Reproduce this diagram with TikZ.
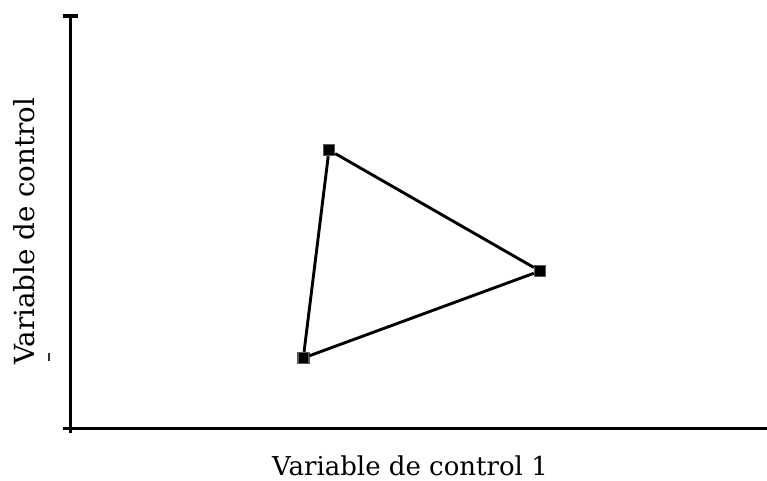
\documentclass[tikz,border=0pt]{standalone}
\usepackage{fontspec}
\setmainfont{DejaVu Serif}
\usetikzlibrary{positioning}

\tikzset{
    vertex/.style={rectangle, minimum size=11pt, inner sep=0pt,
        fill=black, draw=black!65, line width=1.4pt},
    edge/.style={line width=2.9pt},
    axis/.style={line width=3.2pt}
}

\begin{document}
\begin{tikzpicture}[x=1pt,y=1pt]

\useasboundingbox (0,0) rectangle (767,480);

% Axes
\coordinate (ytop) at (70.3,464);
\coordinate (ybot) at (70.3,47);
\coordinate (xleft) at (63,51.5);
\coordinate (xright) at (767,51.5);
\draw[axis] (ytop)--(ybot);
\draw[axis] (xleft)--(xright);
\draw[axis] ([xshift=-7.6pt]ytop)--([xshift=8pt]ytop);

% Labels
\node[inner sep=0pt, anchor=base west, font=\fontsize{26}{30}\selectfont]
    (xlabel) at (272,5) {Variable de control 1};
\node[inner sep=0pt, anchor=base west, rotate=90, font=\fontsize{27.7}{32}\selectfont]
    (ylabel) at (34.3,115) {Variable de control};
\draw[line width=1.3pt, black!80] (49,119)--(49,127);

% Simplex
\node[vertex] (v1) at (329,330) {};
\node[vertex] (v2) at (540,209) {};
\node[vertex] (v3) at (303.3,122) {};
\draw[edge] (v1)--(v2);
\draw[edge] (v2)--(v3);
\draw[edge] (v3)--(v1);

\end{tikzpicture}
\end{document}
